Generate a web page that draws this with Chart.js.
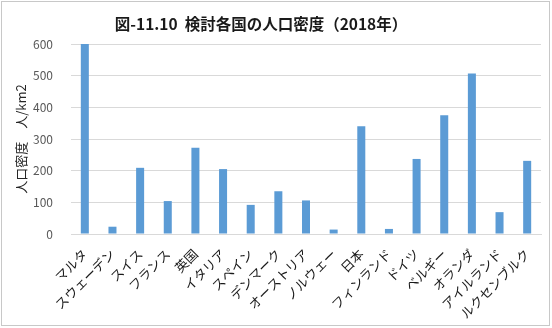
<!DOCTYPE html>
<html lang="ja">
<head>
<meta charset="utf-8">
<title>検討各国の人口密度</title>
<script src="https://cdn.jsdelivr.net/npm/chart.js@4/dist/chart.umd.min.js"></script>
<style>
  html, body { margin: 0; padding: 0; background: #fff; }
  #contenedor { width: 552px; height: 328px; }
</style>
</head>
<body>
<div id="contenedor"><canvas id="myChart" width="552" height="328"></canvas></div>
<script>
// 国名と人口密度（人/km2）
const paises = ['マルタ', 'スウェーデン', 'スイス', 'フランス', '英国', 'イタリア', 'スペイン', 'デンマーク',
  'オーストリア', 'ノルウェー', '日本', 'フィンランド', 'ドイツ', 'ベルギー', 'オランダ', 'アイルランド', 'ルクセンブルク']
const densidad = [600, 23, 209, 104, 272, 205, 92, 135, 106, 14, 340, 16, 237, 375, 507, 69, 231]
const ticksY = [0, 100, 200, 300, 400, 500, 600]

const titulo = '図-11.10  検討各国の人口密度（2018年）'
const tituloY = '人口密度　人/km2'
const fuente = '"Noto Sans CJK JP", "Noto Sans", sans-serif'

const chart = document.getElementById('myChart')

new Chart(chart, {
  type: 'bar',
  data: {
    labels: paises,
    datasets: [{
      data: densidad,
      backgroundColor: '#5B9BD5',
      barPercentage: 0.29,
      categoryPercentage: 1
    }]
  },
  options: {
    responsive: false,
    animation: false,
    layout: { padding: { top: 44, right: 11, bottom: 0, left: 0 } },
    scales: {
      x: {
        grid: { display: false, drawTicks: false },
        border: { color: '#D9D9D9' },
        ticks: {
          autoSkip: false,
          minRotation: 45,
          maxRotation: 45,
          padding: 12,
          color: '#1a1a1a',
          font: { family: fuente, size: 13 }
        },
        afterFit: (scale) => { scale.height = 94 }
      },
      y: {
        min: 0,
        max: 600,
        afterBuildTicks: (scale) => { scale.ticks = ticksY.map(v => ({ value: v })) },
        grid: { color: '#D9D9D9', drawTicks: false },
        border: { display: false },
        ticks: {
          padding: 18,
          color: '#595959',
          font: { family: fuente, size: 12 }
        },
        title: {
          display: true,
          text: tituloY,
          color: '#262626',
          padding: { top: 13, bottom: 0 },
          font: { family: fuente, size: 13 }
        },
        afterFit: (scale) => { scale.width = 71 }
      }
    },
    plugins: {
      legend: { display: false },
      title: { display: false },
      tooltip: { enabled: false }
    }
  },
  plugins: [{
    id: 'marco_y_titulo',
    beforeDraw: (chart) => {
      const ctx = chart.ctx
      ctx.save()
      ctx.fillStyle = '#fff'
      ctx.fillRect(0, 0, chart.width, chart.height)
      ctx.restore()
    },
    afterDraw: (chart) => {
      const ctx = chart.ctx
      ctx.save()
      ctx.strokeStyle = '#C8C8C8'
      ctx.lineWidth = 1
      ctx.strokeRect(1.5, 1.5, chart.width - 4, chart.height - 4)
      ctx.fillStyle = '#1a1a1a'
      ctx.font = 'bold 15.5px ' + fuente
      ctx.textAlign = 'center'
      ctx.textBaseline = 'middle'
      ctx.fillText(titulo, 261, 24)
      ctx.restore()
    }
  }]
})
</script>
</body>
</html>
